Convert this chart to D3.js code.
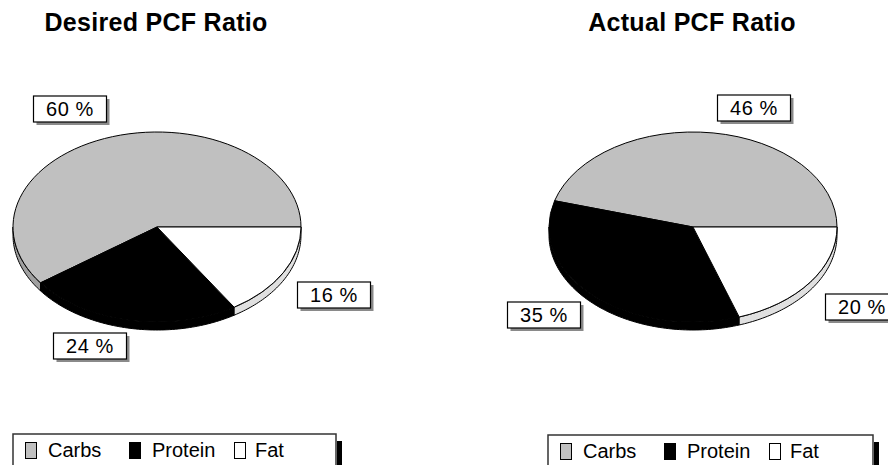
<!DOCTYPE html>
<html><head><meta charset="utf-8">
<script src="https://cdn.jsdelivr.net/npm/d3@7"></script>
<style>body{margin:0;background:#fff}svg{display:block}</style>
</head><body>
<script>
// ---- data ----
const categories = ["Carbs", "Protein", "Fat"];
const desiredValues = [60, 24, 16];
const actualValues = [46, 35, 20];
const chartTitles = ["Desired PCF Ratio", "Actual PCF Ratio"];

// ---- styles / layout ----
const topColors = ["#c0c0c0", "#000000", "#ffffff"];
const sideColors = ["#a0a0a0", "#000000", "#e0e0e0"];
const W = 888, H = 465;
const layouts = [
  {cx: 157, cy: 227, rx: 144, ry: 95, depth: 8, titleX: 156, legendX: 13, legendY: 434, legendW: 323,
   labels: [[70, 109], [90, 346], [334, 295]]},
  {cx: 693, cy: 227, rx: 144, ry: 95, depth: 8, titleX: 692, legendX: 548, legendY: 435, legendW: 325,
   labels: [[754, 108], [544, 315], [862, 307]]}
];
const FONT = "'Liberation Sans', Arial, sans-serif";

const svg = d3.select("body").append("svg").attr("width", W).attr("height", H);

const pie = d3.pie().sort(null).startAngle(Math.PI / 2).endAngle(Math.PI / 2 - 2 * Math.PI);

function ellPt(l, a, dy) { return [l.cx + l.rx * Math.sin(a), l.cy - l.ry * Math.cos(a) + (dy || 0)]; }
function wallPath(l, a0, a1) {
  const n = Math.max(2, Math.ceil((a1 - a0) / 0.02));
  const top = [], bot = [];
  for (let i = 0; i <= n; i++) {
    const a = a0 + (a1 - a0) * i / n;
    top.push(ellPt(l, a)); bot.push(ellPt(l, a, l.depth));
  }
  return "M" + top.map(p => p.join(",")).join("L") + "L" + bot.reverse().map(p => p.join(",")).join("L") + "Z";
}

[desiredValues, actualValues].forEach((vals, ci) => {
  const l = layouts[ci];
  const arcs = pie(vals);
  const g = svg.append("g");

  // title
  g.append("text").attr("x", l.titleX).attr("y", 31).attr("text-anchor", "middle")
    .attr("font-family", FONT).attr("font-weight", "bold").attr("font-size", 25)
    .attr("letter-spacing", 0.3).text(chartTitles[ci]);

  // walls (visible front part)
  const walls = g.append("g");
  arcs.forEach((d, i) => {
    const lo = Math.min(d.startAngle, d.endAngle), hi = Math.max(d.startAngle, d.endAngle);
    for (let k = -3; k <= 1; k++) {
      const v0 = Math.PI / 2 + 2 * k * Math.PI, v1 = 3 * Math.PI / 2 + 2 * k * Math.PI;
      const a0 = Math.max(lo, v0), a1 = Math.min(hi, v1);
      if (a1 > a0 + 1e-6) {
        walls.append("path").attr("d", wallPath(l, a0, a1))
          .attr("fill", sideColors[i]).attr("stroke", "#000").attr("stroke-width", 1);
      }
    }
  });

  // top faces
  const arc = d3.arc().innerRadius(0).outerRadius(l.rx);
  g.append("g").attr("transform", `translate(${l.cx},${l.cy}) scale(1,${l.ry / l.rx})`)
    .selectAll("path").data(arcs).join("path")
    .attr("d", arc).attr("fill", (d, i) => topColors[i])
    .attr("stroke", "#000").attr("stroke-width", 1).attr("vector-effect", "non-scaling-stroke");

  // labels
  const bw = 73, bh = 26;
  arcs.forEach((d, i) => {
    const [x, y] = l.labels[i];
    g.append("rect").attr("x", x - bw / 2 + 3).attr("y", y - bh / 2 + 3).attr("width", bw).attr("height", bh)
      .attr("fill", "#8a8a8a");
    g.append("rect").attr("x", x - bw / 2).attr("y", y - bh / 2).attr("width", bw).attr("height", bh)
      .attr("fill", "#fff").attr("stroke", "#000").attr("stroke-width", 1.2);
    g.append("text").attr("x", x).attr("y", y + 7).attr("text-anchor", "middle")
      .attr("font-family", FONT).attr("font-size", 20).attr("letter-spacing", 0.6).attr("fill", "#000")
      .text(d.data + " %");
  });

  // legend
  const lg = g.append("g").attr("transform", `translate(${l.legendX},${l.legendY})`);
  lg.append("rect").attr("x", l.legendW + 1).attr("y", 7).attr("width", 5).attr("height", 40).attr("fill", "#000");
  lg.append("rect").attr("x", 0).attr("y", 0).attr("width", l.legendW).attr("height", 45)
    .attr("fill", "#fff").attr("stroke", "#333").attr("stroke-width", 1.5);
  const sqX = [12, 116, 221], txX = [35, 139, 242];
  categories.forEach((c, i) => {
    lg.append("rect").attr("x", sqX[i] + 0.5).attr("y", 8.5).attr("width", 11).attr("height", 16)
      .attr("fill", topColors[i]).attr("stroke", "#000").attr("stroke-width", 1);
    lg.append("text").attr("x", txX[i]).attr("y", 23).attr("font-family", FONT).attr("font-size", 20)
      .attr("fill", "#000").text(c);
  });
});
</script>
</body></html>
